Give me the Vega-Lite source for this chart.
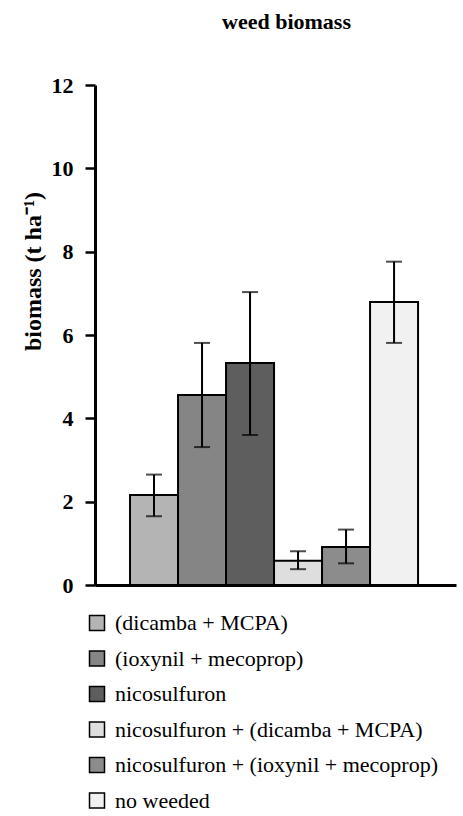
{
  "$schema": "https://vega.github.io/schema/vega-lite/v6.json",
  "autosize": "none",
  "width": 361,
  "height": 500,
  "padding": {"left": 95, "top": 85, "right": 7, "bottom": 231},
  "background": "white",
  "config": {
    "font": "Liberation Serif",
    "view": {"stroke": null}
  },
  "title": {
    "text": "weed biomass",
    "font": "Liberation Serif",
    "fontSize": 22,
    "fontWeight": "bold",
    "color": "black",
    "anchor": "middle",
    "frame": "group",
    "offset": 40,
    "dx": 11
  },
  "data": {
    "values": [
      {"treatment": "(dicamba + MCPA)", "biomass": 2.16, "lo": 1.65, "hi": 2.65},
      {"treatment": "(ioxynil + mecoprop)", "biomass": 4.56, "lo": 3.31, "hi": 5.81},
      {"treatment": "nicosulfuron", "biomass": 5.33, "lo": 3.6, "hi": 7.03},
      {"treatment": "nicosulfuron + (dicamba + MCPA)", "biomass": 0.58, "lo": 0.38, "hi": 0.81},
      {"treatment": "nicosulfuron + (ioxynil + mecoprop)", "biomass": 0.91, "lo": 0.52, "hi": 1.33},
      {"treatment": "no weeded", "biomass": 6.79, "lo": 5.81, "hi": 7.76}
    ]
  },
  "encoding": {
    "x": {
      "field": "treatment",
      "type": "nominal",
      "sort": null,
      "scale": {"paddingInner": 0, "paddingOuter": 0.76, "align": 0.48},
      "axis": {
        "title": null,
        "labels": false,
        "ticks": false,
        "domain": true,
        "domainColor": "black",
        "domainWidth": 3
      }
    }
  },
  "layer": [
    {
      "mark": {"type": "bar", "stroke": "black", "strokeWidth": 2},
      "encoding": {
        "y": {
          "field": "biomass",
          "type": "quantitative",
          "scale": {"domain": [0, 12]},
          "axis": {
            "values": [0, 2, 4, 6, 8, 10, 12],
            "grid": false,
            "domainColor": "black",
            "domainWidth": 3,
            "tickColor": "black",
            "tickWidth": 2.5,
            "tickSize": 10,
            "labelFont": "Liberation Serif",
            "labelFontSize": 22,
            "labelFontWeight": "bold",
            "labelColor": "black",
            "labelPadding": 12,
            "title": "biomass (t ha⁻¹)",
            "titleFont": "Liberation Serif",
            "titleFontSize": 24,
            "titleFontWeight": "bold",
            "titleColor": "black",
            "titleAngle": -90,
            "titleAlign": "center",
            "titleBaseline": "middle",
            "titleX": -62,
            "titleY": 186
          }
        },
        "fill": {
          "field": "treatment",
          "type": "nominal",
          "sort": null,
          "scale": {
            "range": ["#b4b4b4", "#858585", "#5e5e5e", "#dedede", "#8c8c8c", "#f1f1f1"]
          },
          "legend": {
            "title": null,
            "orient": "none",
            "legendX": -9,
            "legendY": 527,
            "direction": "vertical",
            "symbolType": "square",
            "symbolSize": 225,
            "symbolStrokeColor": "black",
            "symbolStrokeWidth": 1.5,
            "symbolOpacity": 1,
            "labelFont": "Liberation Serif",
            "labelFontSize": 22,
            "labelColor": "black",
            "labelOffset": 7,
            "labelLimit": 500,
            "rowPadding": 13.5
          }
        }
      }
    },
    {
      "mark": {"type": "rule", "color": "black", "strokeWidth": 2},
      "encoding": {
        "y": {"field": "lo", "type": "quantitative"},
        "y2": {"field": "hi"}
      }
    },
    {
      "mark": {"type": "tick", "color": "black", "thickness": 2, "size": 16},
      "encoding": {
        "y": {"field": "lo", "type": "quantitative"}
      }
    },
    {
      "mark": {"type": "tick", "color": "black", "thickness": 2, "size": 16},
      "encoding": {
        "y": {"field": "hi", "type": "quantitative"}
      }
    }
  ]
}
